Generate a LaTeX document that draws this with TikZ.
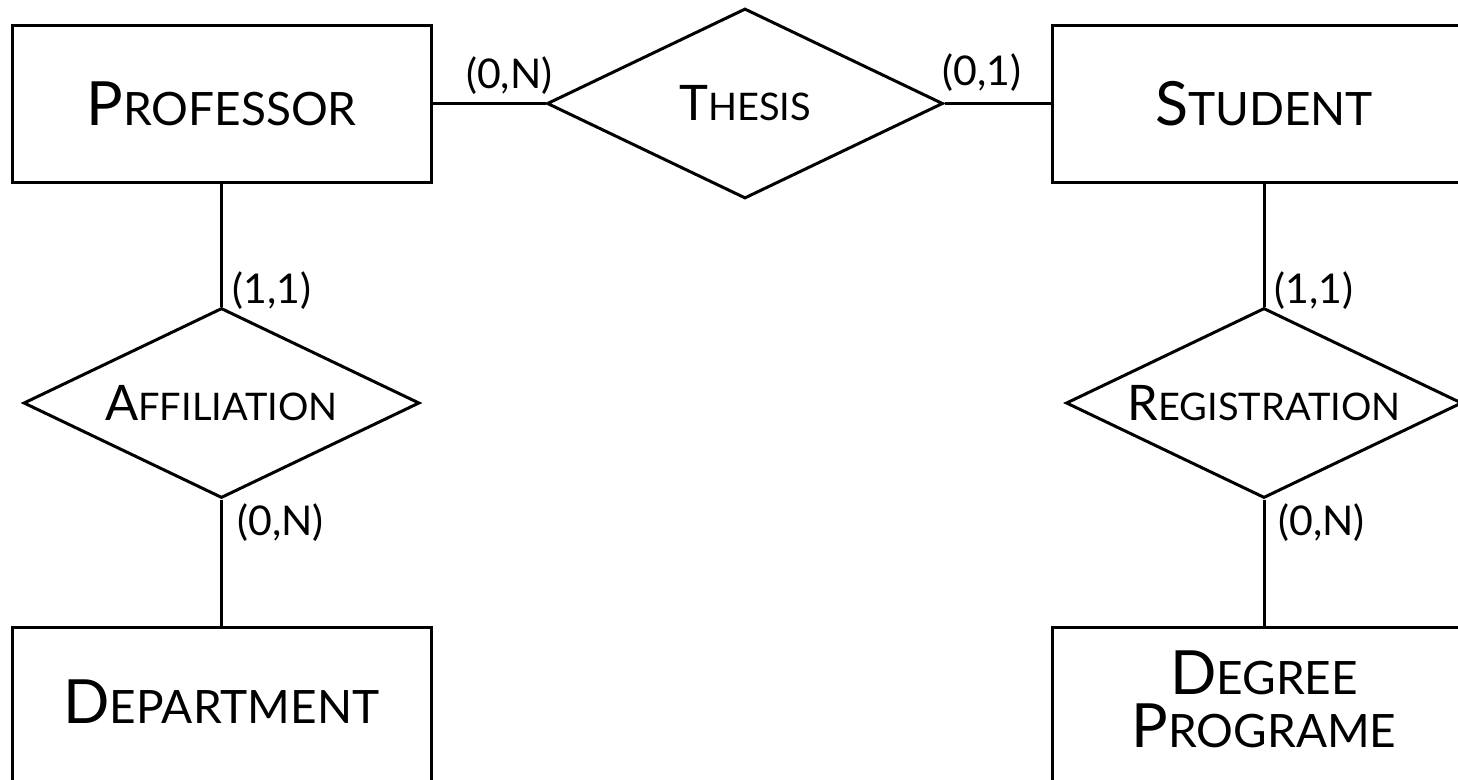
\documentclass[tikz,border=0pt]{standalone}
\usepackage{fontspec}
\setmainfont{Lato}
\usetikzlibrary{shapes.geometric}
\newcommand{\boxsc}[2]{{\fontsize{61}{53}\selectfont #1}{\fontsize{46}{53}\selectfont #2}}
\newcommand{\relsc}[2]{{\fontsize{49}{50}\selectfont #1}{\fontsize{38}{50}\selectfont #2}}
\begin{document}
\begin{tikzpicture}[x=1pt,y=-1pt,
  line width=3pt,
  entity/.style={draw, rectangle, minimum width=419pt, minimum height=157pt, inner sep=0pt, align=center, font=\fontsize{46}{53}\selectfont},
  relation/.style={draw, diamond, aspect=2.07, minimum width=396pt, minimum height=190pt, inner sep=0pt},
  card/.style={inner sep=0pt, font=\fontsize{41}{44}\selectfont}]
\useasboundingbox (0,0) rectangle (1458,779);
\fill[white] (0,0) rectangle (1458,779);
% entities
\node[entity] (prof) at (221.5,103.5) {\boxsc{P}{ROFESSOR}};
\node[entity, minimum width=424pt] (stud) at (1264,103.5) {\boxsc{S}{TUDENT}};
\node[entity, text depth=8pt] (dept) at (221.5,706) {\boxsc{D}{EPARTMENT}};
\node[entity, minimum width=424pt, text depth=14pt] (deg) at (1264,706) {\boxsc{D}{EGREE}\\\boxsc{P}{ROGRAME}};
% relationships
\node[relation] (thesis) at (745,103.5) {\relsc{T}{HESIS}};
\node[relation] (aff) at (221.5,403) {\relsc{A}{FFILIATION}};
\node[relation] (reg) at (1264,403) {\relsc{R}{EGISTRATION}};
% connectors
\draw (prof.east) -- (thesis.west);
\draw (thesis.east) -- (stud.west);
\draw (prof.south) -- (aff.north);
\draw (aff.south) -- (dept.north);
\draw (stud.south) -- (reg.north);
\draw (reg.south) -- (deg.north);
% cardinalities
\node[card, anchor=east] (c1) at (554,76) {(0,N)};
\node[card, anchor=west] (c2) at (941,73) {(0,1)};
\node[card, anchor=west] (c3) at (231,291) {(1,1)};
\node[card, anchor=west] (c4) at (236,523) {(0,N)};
\node[card, anchor=west] (c5) at (1273,291) {(1,1)};
\node[card, anchor=west] (c6) at (1277,523) {(0,N)};
\end{tikzpicture}
\end{document}
